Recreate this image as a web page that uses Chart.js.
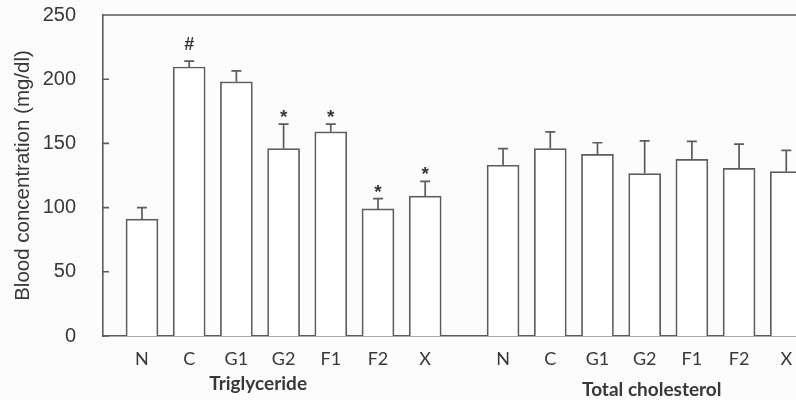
<!DOCTYPE html>
<html>
<head>
<meta charset="utf-8">
<script src="https://cdn.jsdelivr.net/npm/chart.js@4.4.1/dist/chart.umd.min.js"></script>
<style>
  html, body { margin: 0; padding: 0; background: #fcfcfc; overflow: hidden; }
  canvas { display: block; }
</style>
</head>
<body>
<canvas id="bloodChart" width="796" height="400"></canvas>
<script>
// values (mg/dl), mean and SD per group
const categories = ["N", "C", "G1", "G2", "F1", "F2", "X"];
const groups = ["Triglyceride", "Total cholesterol"];
const triglyceride = [91, 209.5, 198, 146, 159, 99, 109];
const triglycerideSD = [9, 4.5, 8.5, 19, 6, 8, 11.5];
const triglycerideMarks = ["", "#", "", "*", "*", "*", "*"];
const cholesterol = [133, 146, 141.5, 126.5, 137.5, 130.5, 128];
const cholesterolSD = [13, 13, 9, 25.5, 14, 19, 16.5];
const cholesterolMarks = ["", "", "", "", "", "", ""];
const yTicks = [0, 50, 100, 150, 200, 250];

const INK = "#5c5c5c";
const TEXT = "#383838";

// the two groups sit on one linear axis, separated by a wider gap
const groupStart = [0, 7.65];
const groupLabelAt = [2.46, 10.8];
const groupLabelY = [384, 390];

const points = [];
[[triglyceride, triglycerideSD, triglycerideMarks], [cholesterol, cholesterolSD, cholesterolMarks]]
  .forEach(([vals, sds, marks], g) => {
    vals.forEach((v, i) => {
      points.push({ x: groupStart[g] + i, y: v, sd: sds[i], mark: marks[i], label: categories[i] });
    });
  });

const errorBars = {
  id: "errorBars",
  afterDatasetsDraw(chart) {
    const { ctx, scales: { y } } = chart;
    const meta = chart.getDatasetMeta(0);
    ctx.save();
    ctx.strokeStyle = INK;
    ctx.lineWidth = 1.7;
    meta.data.forEach((bar, i) => {
      const p = points[i];
      const top = y.getPixelForValue(p.y + p.sd);
      ctx.beginPath();
      ctx.moveTo(bar.x, bar.y);
      ctx.lineTo(bar.x, top);
      ctx.moveTo(bar.x - 5, top);
      ctx.lineTo(bar.x + 5, top);
      ctx.stroke();
      if (p.mark) {
        ctx.fillStyle = TEXT;
        ctx.textAlign = "center";
        ctx.textBaseline = "alphabetic";
        if (p.mark === "#") {
          ctx.font = "bold 18px 'Liberation Sans', Arial, sans-serif";
          ctx.fillText(p.mark, bar.x, top - 11);
        } else {
          ctx.font = "bold 19px 'Liberation Sans', Arial, sans-serif";
          ctx.fillText(p.mark, bar.x, top - 1);
        }
      }
    });
    ctx.restore();
  }
};

const frame = {
  id: "frame",
  afterDraw(chart) {
    const { ctx, chartArea: a, scales: { x, y } } = chart;
    ctx.save();
    ctx.strokeStyle = INK;
    ctx.lineWidth = 1.6;
    ctx.beginPath();
    ctx.moveTo(a.left, a.top);
    ctx.lineTo(a.right, a.top);
    yTicks.forEach(t => {
      const py = y.getPixelForValue(t);
      ctx.moveTo(a.left, py);
      ctx.lineTo(a.left + 6, py);
    });
    ctx.stroke();
    ctx.fillStyle = TEXT;
    ctx.font = "bold 19px Lato, sans-serif";
    ctx.textAlign = "center";
    ctx.textBaseline = "middle";
    groups.forEach((g, i) => {
      ctx.fillText(g, x.getPixelForValue(groupLabelAt[i]), groupLabelY[i]);
    });
    ctx.restore();
  }
};

new Chart(document.getElementById("bloodChart"), {
  type: "bar",
  data: {
    datasets: [{
      data: points,
      backgroundColor: "#ffffff",
      borderColor: INK,
      borderWidth: 1.7,
      barThickness: 32
    }]
  },
  options: {
    responsive: false,
    animation: false,
    layout: { padding: { top: 15, right: 0, left: 0, bottom: 0 } },
    plugins: { legend: { display: false }, tooltip: { enabled: false } },
    scales: {
      x: {
        type: "linear",
        offset: false,
        min: -0.826,
        max: 13.856,
        grid: { display: false },
        border: { display: true, color: INK, width: 1.6 },
        afterBuildTicks: s => { s.ticks = points.map(p => ({ value: p.x })); },
        afterFit: s => {
          s.height = 64;
          s.paddingLeft = 0; s.paddingRight = 0;
        },
        ticks: {
          autoSkip: false,
          maxRotation: 0,
          padding: 4,
          color: TEXT,
          font: { family: "Lato", size: 18 },
          callback: v => {
            const p = points.find(q => Math.abs(q.x - v) < 1e-6);
            return p ? p.label : "";
          }
        }
      },
      y: {
        min: 0,
        max: 250,
        grid: { display: false },
        border: { display: true, color: INK, width: 1.6 },
        afterBuildTicks: s => { s.ticks = yTicks.map(v => ({ value: v })); },
        afterFit: s => {
          s.width = 103;
          s.paddingTop = 0; s.paddingBottom = 0;
        },
        ticks: {
          padding: 19,
          color: TEXT,
          font: { family: "'Liberation Sans', Arial, sans-serif", size: 20 }
        },
        title: {
          display: true,
          text: "Blood concentration (mg/dl)",
          color: TEXT,
          font: { family: "'Liberation Sans', Arial, sans-serif", size: 20.5 },
          padding: { top: 11, bottom: 0 }
        }
      }
    }
  },
  plugins: [errorBars, frame]
});
</script>
</body>
</html>
